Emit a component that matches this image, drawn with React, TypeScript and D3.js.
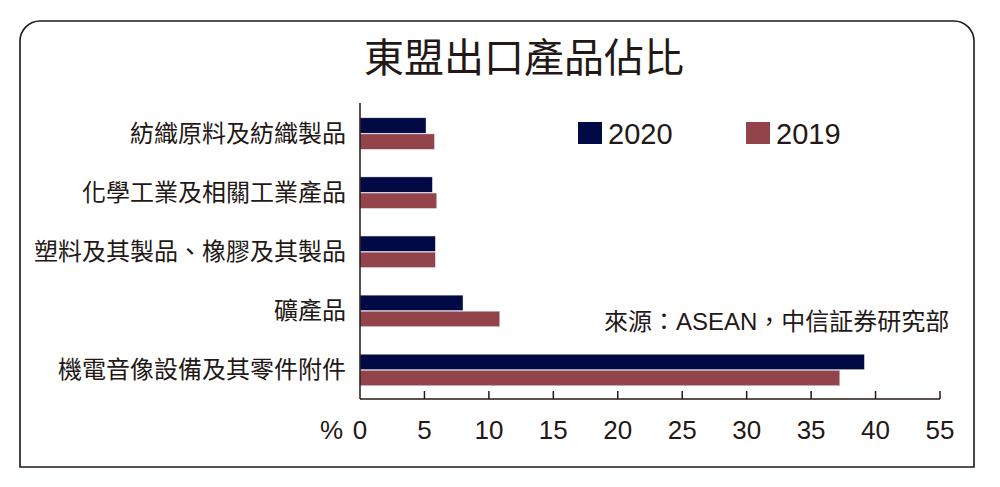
import React from "react";
import * as d3 from "d3";

const categories = [
  "紡織原料及紡織製品",
  "化學工業及相關工業產品",
  "塑料及其製品、橡膠及其製品",
  "礦產品",
  "機電音像設備及其零件附件",
];
const values2020 = [5.12, 5.61, 5.84, 7.99, 39.13];
const values2019 = [5.77, 5.95, 5.84, 10.84, 37.22];
const seriesNames = ["2020", "2019"];
const tickValues = [0, 5, 10, 15, 20, 25, 30, 35, 40, 45];
const tickLabels = ["0", "5", "10", "15", "20", "25", "30", "35", "40", "55"];
const title = "東盟出口產品佔比";
const source = "來源：ASEAN，中信証券研究部";

const W = 1000;
const H = 487;
const NAVY = "#020a46";
const MAROON = "#93444a";
const INK = "#231815";
const FONT = "'Liberation Sans', Arial, 'Noto Sans CJK TC', sans-serif";
const CJK = "'Noto Sans CJK TC', 'Liberation Sans', sans-serif";

export default function App() {
  const x = d3.scaleLinear().domain([0, 45]).range([360, 940]);
  const y = d3.scaleBand<string>().domain(categories).range([104, 399.5]).padding(0);
  const sub = d3.scaleBand<string>().domain(seriesNames).range([-16.5, 16.5]).padding(0.05);
  const colors = [NAVY, MAROON];
  const data = [values2020, values2019];
  const axisY = 399;

  return (
    <svg
      width={W}
      height={H}
      viewBox={`0 0 ${W} ${H}`}
      style={{ position: "absolute", left: 0, top: 0, display: "block", background: "#fff" }}
    >
      {/* frame */}
      <path
        d="M20,467 V41 A20,20 0 0 1 40,21 H954 A20,20 0 0 1 974,41 V467 Z"
        fill="#fff"
        stroke={INK}
        strokeWidth={1.6}
      />
      <text x={524} y={72} textAnchor="middle" fontFamily={CJK} fontSize={40} fontWeight={400} fill={INK}>
        {title}
      </text>

      {/* bars */}
      {categories.map((c, i) => {
        const cy = (y(c) ?? 0) + y.bandwidth() / 2;
        return (
          <g key={c}>
            {data.map((series, s) => (
              <rect
                key={s}
                x={x(0)}
                y={cy + (sub(seriesNames[s]) ?? 0)}
                width={x(series[i]) - x(0)}
                height={sub.bandwidth()}
                fill={colors[s]}
                stroke="#dcdce8"
                strokeWidth={0.4}
              />
            ))}
            <text
              x={346}
              y={cy - 2}
              textAnchor="end"
              dominantBaseline="central"
              fontFamily={CJK}
              fontSize={24}
              fill={INK}
            >
              {c}
            </text>
          </g>
        );
      })}

      {/* axes */}
      <line x1={x(0)} x2={x(0)} y1={103} y2={axisY} stroke={INK} strokeWidth={1.5} />
      <line x1={x(0)} x2={x(45)} y1={axisY} y2={axisY} stroke={INK} strokeWidth={1.5} />
      {tickValues.map((t, i) => (
        <g key={t}>
          {t > 0 && (
            <line x1={x(t)} x2={x(t)} y1={axisY} y2={axisY - 8} stroke={INK} strokeWidth={1.5} />
          )}
          <text x={x(t)} y={439} textAnchor="middle" fontFamily={FONT} fontSize={26} fill={INK}>
            {tickLabels[i]}
          </text>
        </g>
      ))}
      <text x={343} y={439} textAnchor="end" fontFamily={FONT} fontSize={26} fill={INK}>
        %
      </text>

      {/* legend */}
      {seriesNames.map((n, s) => {
        const lx = s === 0 ? 578 : 746;
        return (
          <g key={n}>
            <rect x={lx} y={122} width={24} height={22} fill={colors[s]} />
            <text x={lx + 30} y={144} fontFamily={FONT} fontSize={29} fill={INK}>
              {n}
            </text>
          </g>
        );
      })}

      {/* source */}
      <text x={604} y={330} fontFamily={FONT} fontSize={24} fill={INK}>
        {source}
      </text>
    </svg>
  );
}
